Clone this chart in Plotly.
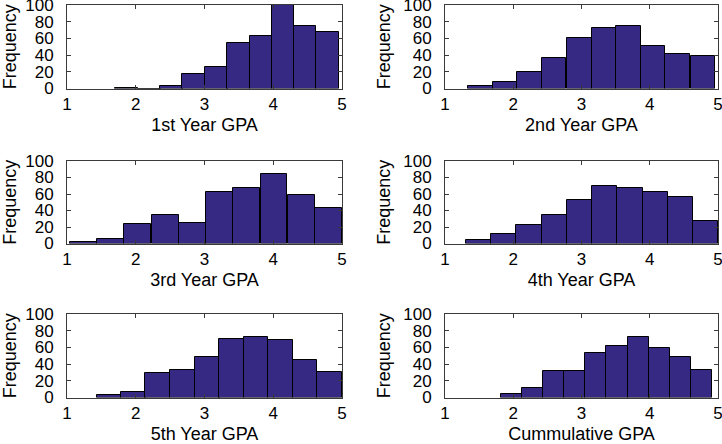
#######
# GPA histograms: six panels (1st..5th year and cumulative), counts per bin
#######
import plotly.graph_objs as go

# bin centres and frequencies
gpa1_bins = [1.87, 2.20, 2.52, 2.84, 3.17, 3.49, 3.82, 4.14, 4.46, 4.79]
gpa1_freq = [1, 0, 3, 17, 26, 55, 63, 100, 75, 68]

gpa2_bins = [1.52, 1.88, 2.24, 2.60, 2.97, 3.33, 3.69, 4.05, 4.41, 4.78]
gpa2_freq = [3, 8, 20, 37, 60, 73, 75, 51, 41, 39]

gpa3_bins = [1.24, 1.63, 2.03, 2.43, 2.82, 3.22, 3.61, 4.01, 4.41, 4.80]
gpa3_freq = [2, 6, 24, 35, 25, 62, 67, 84, 59, 43]

gpa4_bins = [1.49, 1.86, 2.23, 2.60, 2.97, 3.34, 3.71, 4.08, 4.45, 4.82]
gpa4_freq = [4, 11, 22, 34, 53, 70, 67, 63, 56, 27]

gpa5_bins = [1.61, 1.97, 2.32, 2.68, 3.04, 3.39, 3.75, 4.11, 4.46, 4.82]
gpa5_freq = [3, 7, 29, 33, 49, 70, 72, 69, 45, 30]

cum_bins = [1.97, 2.28, 2.59, 2.90, 3.21, 3.52, 3.83, 4.14, 4.45, 4.76]
cum_freq = [4, 11, 32, 32, 53, 62, 73, 59, 48, 33]

titles = ['1st Year GPA', '2nd Year GPA', '3rd Year GPA',
          '4th Year GPA', '5th Year GPA', 'Cummulative GPA']
panels = [(gpa1_bins, gpa1_freq), (gpa2_bins, gpa2_freq),
          (gpa3_bins, gpa3_freq), (gpa4_bins, gpa4_freq),
          (gpa5_bins, gpa5_freq), (cum_bins, cum_freq)]

W, H = 722, 444
font = dict(family='Liberation Sans, Arial, sans-serif', size=18, color='black')
tickfont = dict(font, size=17)

# panel boxes in pixels (left, right, top, bottom)
cols = [(67, 342), (445, 718)]
rows = [(5, 88.5), (161, 243.5), (314, 397.5)]

data = []
layout = go.Layout(width=W, height=H, showlegend=False,
                   margin=dict(l=0, r=0, t=0, b=0),
                   paper_bgcolor='white', plot_bgcolor='white',
                   font=font, bargap=0)

for i, ((bins, freq), title) in enumerate(zip(panels, titles)):
    n = str(i + 1) if i else ''
    c0, c1 = cols[i % 2]
    r0, r1 = rows[i // 2]
    data.append(go.Bar(
        x=bins, y=freq, width=bins[1] - bins[0],
        xaxis='x' + n, yaxis='y' + n,
        marker=dict(color='#352983', line=dict(color='black', width=1))
    ))
    axis = dict(showgrid=False, zeroline=False, showline=True, mirror='ticks',
                linecolor='#3a3a3a', linewidth=1, ticks='inside', ticklen=4,
                tickcolor='#3a3a3a', tickfont=tickfont, automargin=False,
                ticklabeloverflow='allow')
    layout['xaxis' + n] = dict(axis, range=[1, 5], dtick=1,
                               domain=[c0 / W, c1 / W], anchor='y' + n,
                               ticklabelstandoff=0,
                               title=dict(text=title, font=font, standoff=5))
    layout['yaxis' + n] = dict(axis, range=[0, 100], dtick=20,
                               domain=[1 - r1 / H, 1 - r0 / H], anchor='x' + n,
                               ticklabelstandoff=9,
                               title=dict(text='Frequency', font=font, standoff=7))

fig = go.Figure(data=data, layout=layout)
# page body has a default 8px margin; drop it so the figure sits at 0,0
fig.write_html("out.html", config={'displayModeBar': False},
               post_script="document.body.style.margin='0';")
